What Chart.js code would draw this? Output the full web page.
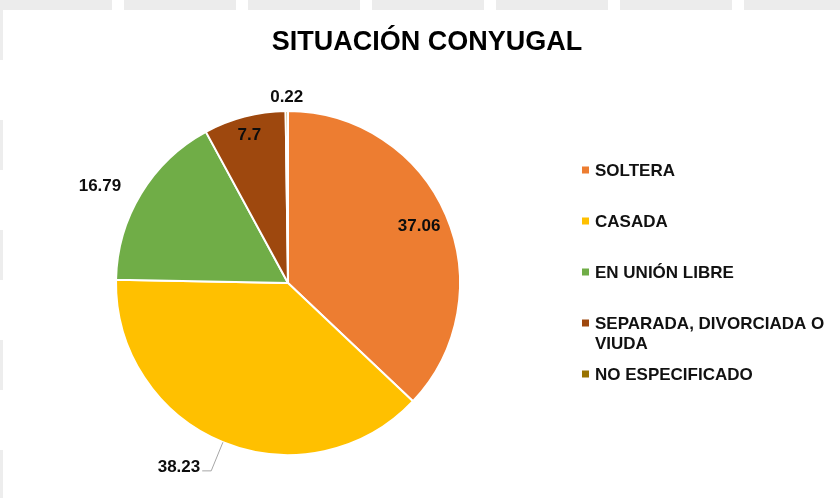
<!DOCTYPE html>
<html>
<head>
<meta charset="utf-8">
<title>Situación conyugal</title>
<script src="https://cdn.jsdelivr.net/npm/chart.js@4.4.1/dist/chart.umd.min.js"></script>
<style>
    html, body { margin: 0; padding: 0; background: #fff; }
    #wrap { position: relative; width: 840px; height: 498px; overflow: hidden; }
    .band {
        position: absolute; left: 0; top: 0; width: 840px; height: 10px;
        background: repeating-linear-gradient(90deg, #ececec 0 112px, #fff 112px 124px);
    }
    .edge {
        position: absolute; left: 0; top: 10px; width: 3px; height: 488px;
        background: repeating-linear-gradient(180deg, #ededed 0 50px, #fff 50px 110px);
    }
    canvas { position: absolute; left: 0; top: 0; }
</style>
</head>
<body>
<div id="wrap">
    <div class="band"></div>
    <div class="edge"></div>
    <canvas id="pieChart" width="840" height="498"></canvas>
</div>
<script>
const chartTitle = "SITUACIÓN CONYUGAL";
const categories = ["SOLTERA", "CASADA", "EN UNIÓN LIBRE", "SEPARADA, DIVORCIADA O VIUDA", "NO ESPECIFICADO"];
const values = [37.06, 38.23, 16.79, 7.7, 0.22];
const colors = ["#ED7D31", "#FFC000", "#70AD47", "#9E480E", "#997300"];

// where each value label goes: fraction of the radius + small angle nudge (deg)
const labelPlacement = [
    { r: 0.83, shift: 0 },
    { r: 1.18, shift: 0, leader: true },
    { r: 1.23, shift: -4 },
    { r: 0.89, shift: 0 },
    { r: 1.08, shift: 0 }
];

const FONT = "'Liberation Sans', Arial, sans-serif";

/*-------------------------*\
   Plugins
\*-------------------------*/

const valueLabels = {
    id: "valueLabels",
    afterDatasetsDraw(chart) {
        const ctx = chart.ctx;
        const meta = chart.getDatasetMeta(0);
        ctx.save();
        ctx.font = "bold 17px " + FONT;
        ctx.fillStyle = "#0d0d0d";

        meta.data.forEach((arc, i) => {
            const p = arc.getProps(["x", "y", "startAngle", "endAngle", "outerRadius"], true);
            const place = labelPlacement[i];
            const mid = (p.startAngle + p.endAngle) / 2;
            const angle = mid + place.shift * Math.PI / 180;
            const x = p.x + Math.cos(angle) * p.outerRadius * place.r;
            const y = p.y + Math.sin(angle) * p.outerRadius * place.r;
            const text = String(chart.data.datasets[0].data[i]);

            if (place.leader) {
                ctx.strokeStyle = "#a6a6a6";
                ctx.lineWidth = 1;
                ctx.beginPath();
                ctx.moveTo(p.x + Math.cos(mid) * p.outerRadius, p.y + Math.sin(mid) * p.outerRadius);
                ctx.lineTo(x, y);
                ctx.lineTo(x - 9, y);
                ctx.stroke();
                ctx.textAlign = "right";
                ctx.textBaseline = "alphabetic";
                ctx.fillText(text, x - 11, y + 1);
            } else {
                ctx.textAlign = "center";
                ctx.textBaseline = "middle";
                ctx.fillText(text, x, y);
            }
        });
        ctx.restore();
    }
};

function wrapText(ctx, text, maxWidth) {
    let lines = [];
    let line = "";
    for (let word of text.split(" ")) {
        let test = line ? line + " " + word : word;
        if (ctx.measureText(test).width > maxWidth && line) {
            lines.push(line);
            line = word;
        } else {
            line = test;
        }
    }
    lines.push(line);
    return lines;
}

const titleAndLegend = {
    id: "titleAndLegend",
    afterDraw(chart) {
        const ctx = chart.ctx;
        ctx.save();

        // title
        ctx.font = "bold 27px " + FONT;
        ctx.fillStyle = "#000";
        ctx.textAlign = "center";
        ctx.textBaseline = "alphabetic";
        ctx.fillText(chartTitle, 427, 50);

        // legend on the right
        ctx.font = "bold 17px " + FONT;
        ctx.textAlign = "left";
        chart.data.labels.forEach((label, i) => {
            let cy = 170 + i * 51;
            ctx.fillStyle = chart.data.datasets[0].backgroundColor[i];
            ctx.fillRect(582, cy - 3.5, 7, 7);
            ctx.fillStyle = "#111";
            wrapText(ctx, label, 240).forEach((line, j) => {
                ctx.fillText(line, 595, cy + 6 + j * 20);
            });
        });
        ctx.restore();
    }
};

/*-------------------------*\
   Chart
\*-------------------------*/

const ctx = document.getElementById("pieChart");
new Chart(ctx, {
    type: "pie",
    data: {
        labels: categories,
        datasets: [{
            data: values,
            backgroundColor: colors,
            borderColor: "#fff",
            borderWidth: 2
        }]
    },
    options: {
        responsive: false,
        animation: false,
        layout: {
            padding: { top: 110, bottom: 42, left: 115, right: 379 }
        },
        plugins: {
            legend: { display: false },
            title: { display: false },
            tooltip: { enabled: false }
        }
    },
    plugins: [valueLabels, titleAndLegend]
});
</script>
</body>
</html>
